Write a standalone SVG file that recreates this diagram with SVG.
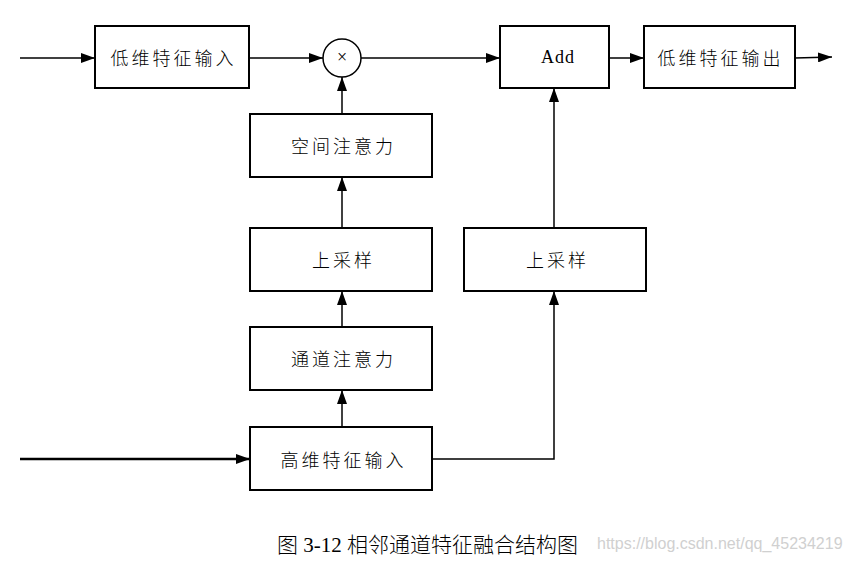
<svg xmlns="http://www.w3.org/2000/svg" width="850" height="561" viewBox="0 0 850 561">
<defs>
<marker id="ah" markerWidth="14" markerHeight="10" refX="14" refY="5" orient="auto" markerUnits="userSpaceOnUse">
<path d="M0,0 L14,5 L0,10 Z" fill="#000"/>
</marker>
<style>
.box{fill:#fff;stroke:#000;stroke-width:2}
.lbl{font-family:"Noto Sans CJK SC","Noto Sans",sans-serif;font-size:18px;font-weight:300;letter-spacing:3px;text-anchor:middle;dominant-baseline:central;fill:#000}
.en{font-family:"Liberation Serif",serif;font-size:18px;text-anchor:middle;dominant-baseline:central;fill:#000}
.ln{fill:none;stroke:#000;stroke-width:1.5}
.lnt{fill:none;stroke:#000;stroke-width:2.5}
</style>
</defs>
<rect width="850" height="561" fill="#fff"/>
<g id="connectors">
<line class="ln" x1="20" y1="58" x2="95" y2="58" marker-end="url(#ah)"/>
<line class="ln" x1="249" y1="58" x2="323" y2="58" marker-end="url(#ah)"/>
<line class="ln" x1="361" y1="58" x2="500" y2="58" marker-end="url(#ah)"/>
<line class="ln" x1="609" y1="58" x2="644" y2="58" marker-end="url(#ah)"/>
<line class="ln" x1="795" y1="58" x2="832" y2="57" marker-end="url(#ah)"/>
<line class="ln" x1="342" y1="114" x2="342" y2="77" marker-end="url(#ah)"/>
<line class="ln" x1="342" y1="228" x2="342" y2="177" marker-end="url(#ah)"/>
<line class="ln" x1="342" y1="327" x2="342" y2="291" marker-end="url(#ah)"/>
<line class="ln" x1="342" y1="427" x2="342" y2="390" marker-end="url(#ah)"/>
<polyline class="ln" points="432,459 554,459 554,291" marker-end="url(#ah)"/>
<line class="ln" x1="554" y1="228" x2="554" y2="88" marker-end="url(#ah)"/>
<line class="lnt" x1="20" y1="459" x2="250" y2="459" marker-end="url(#ah)"/>
</g>
<g id="low-in"><rect class="box" x="95" y="26" width="154" height="62"/><text class="lbl" x="173.5" y="57">低维特征输入</text></g>
<g id="mul"><circle cx="342" cy="58" r="19" fill="#fff" stroke="#000" stroke-width="1.5"/><text class="en" x="342" y="57" font-size="14">×</text></g>
<g id="add"><rect class="box" x="500" y="26" width="109" height="62"/><text class="en" x="558" y="57" letter-spacing="1">Add</text></g>
<g id="low-out"><rect class="box" x="644" y="26" width="151" height="62"/><text class="lbl" x="720.5" y="57">低维特征输出</text></g>
<g id="spatial"><rect class="box" x="250" y="114" width="182" height="63"/><text class="lbl" x="343.5" y="145">空间注意力</text></g>
<g id="up-left"><rect class="box" x="250" y="228" width="182" height="63"/><text class="lbl" x="343.5" y="259">上采样</text></g>
<g id="up-right"><rect class="box" x="464" y="228" width="182" height="63"/><text class="lbl" x="557.5" y="259">上采样</text></g>
<g id="channel"><rect class="box" x="250" y="327" width="182" height="63"/><text class="lbl" x="343.5" y="358">通道注意力</text></g>
<g id="high-in"><rect class="box" x="250" y="427" width="182" height="63"/><text class="lbl" x="343.5" y="459">高维特征输入</text></g>
<text x="277" y="552" font-family="Liberation Serif,'Noto Sans CJK SC',serif" font-size="21" font-weight="300" fill="#000">图 3-12 相邻通道特征融合结构图</text>
<text x="597" y="549" font-family="Liberation Sans,Arial,sans-serif" font-size="16" fill="#d0d0d0">https://blog.csdn.net/qq_45234219</text>
</svg>
